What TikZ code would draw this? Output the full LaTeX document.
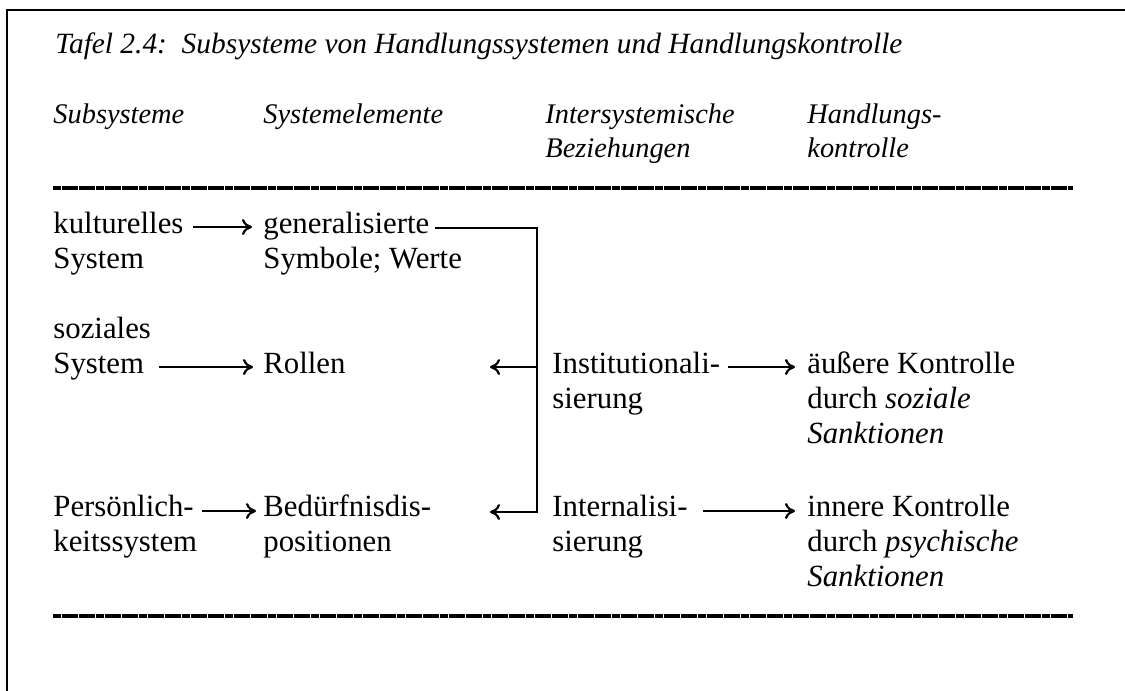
\documentclass[tikz,border=0pt]{standalone}
\usepackage{fontspec}
\setmainfont{Liberation Serif}
\usetikzlibrary{arrows,arrows.meta}
\usetikzlibrary{calc}

\begin{document}
\begin{tikzpicture}[x=0.5pt,y=-0.5pt,
  cell/.style={anchor=base west,inner sep=0pt,align=left,font=\fontsize{15.4}{17.5}\selectfont},
  head/.style={cell,font=\fontsize{14.2}{17}\selectfont\itshape},
  arr/.style={-{To[length=5pt,width=8pt]},line width=1.1pt},
  rule/.style={line width=1.6pt,dash pattern=on 4pt off 0.3pt}]
  \useasboundingbox (0,0) rectangle (1125,691);
  \draw[line width=1.1pt] (7,691) -- (7,10) -- (1125,10);

  \node[head,font=\fontsize{14.7}{17}\selectfont\itshape] (title) at (55,53) {Tafel 2.4:\ \ Subsysteme von Handlungssystemen und Handlungskontrolle};

  % base = last line of a node
  \node[head] (hsub) at (53,123) {Subsysteme};
  \node[head] (hele) at (263,123) {Systemelemente};
  \node[head] (hbez) at (545,157) {Intersystemische\\Beziehungen};
  \node[head] (hkon) at (807,157) {Handlungs-\\kontrolle};

  \draw[rule] (53,188) -- (1073,188);

  \node[cell] (kult) at (53,268) {kulturelles\\System};
  \node[cell] (gen) at (263,268) {generalisierte\\Symbole; Werte};

  \node[cell] (soz) at (53,373) {soziales\\System};
  \node[cell] (rol) at (263,373) {Rollen};
  \node[cell] (inst) at (552,408) {Institutionali-\\sierung};
  \node[cell] (aeuss) at (807,443) {äußere Kontrolle\\durch \textit{soziale}\\\textit{Sanktionen}};

  \node[cell] (pers) at (53,551) {Persönlich-\\keitssystem};
  \node[cell] (bed) at (263,551) {Bedürfnisdis-\\positionen};
  \node[cell] (intern) at (552,551) {Internalisi-\\sierung};
  \node[cell] (inner) at (807,586) {innere Kontrolle\\durch \textit{psychische}\\\textit{Sanktionen}};

  \draw[rule] (53,616) -- (1073,616);

  % arrows
  \draw[arr] ($(kult.base east)+(9,-41)$) -- ($(gen.base west)+(-11,-41)$);
  \draw[arr] ($(soz.base east)+(8,-6)$) -- ($(rol.base west)+(-10,-6)$);
  \draw[arr] ($(pers.base east)+(4,-40)$) -- ($(bed.base west)+(-7,-40)$);
  \draw[arr] ($(inst.base east)+(8,-41)$) -- ($(aeuss.base west)+(-12,-76)$);
  \draw[arr] ($(intern.base east)+(15,-40)$) -- ($(inner.base west)+(-12,-75)$);

  % bracket
  \draw[arr] ($(gen.base west)+(172,-40)$) -| ($(intern.base west)+(-15,-39)$) -- ++(-47,0);
  \draw[arr] ($(inst.base west)+(-15,-41)$) -- ++(-47,0);
\end{tikzpicture}
\end{document}
